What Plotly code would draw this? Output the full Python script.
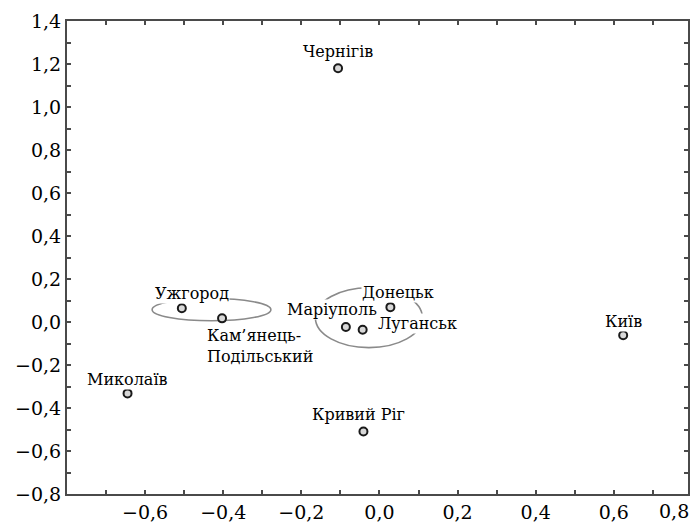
import plotly.graph_objects as go

# ---- data ----
cities = ["Чернігів", "Ужгород", "Кам’янець-<br>Подільський", "Маріуполь", "Донецьк",
          "Луганськ", "Миколаїв", "Київ", "Кривий Ріг"]
x_vals = [-0.106, -0.506, -0.403, -0.086, 0.028, -0.043, -0.645, 0.624, -0.041]
y_vals = [1.18, 0.064, 0.017, -0.023, 0.069, -0.036, -0.332, -0.062, -0.509]

# cluster ellipses (x0, x1, y0, y1)
cluster1 = [-0.582, -0.278, 0.006, 0.109]
cluster2 = [-0.164, 0.110, -0.119, 0.159]

x_tick_vals = [-0.8, -0.7, -0.6, -0.5, -0.4, -0.3, -0.2, -0.1, 0.0, 0.1, 0.2, 0.3, 0.4, 0.5, 0.6, 0.7, 0.8]
x_tick_text = ["", "", "−0,6", "", "−0,4", "", "−0,2", "", "0,0", "", "0,2", "", "0,4", "", "0,6", "", "0,8"]
y_tick_vals = [-0.8, -0.7, -0.6, -0.5, -0.4, -0.3, -0.2, -0.1, 0.0, 0.1, 0.2, 0.3, 0.4, 0.5, 0.6,
               0.7, 0.8, 0.9, 1.0, 1.1, 1.2, 1.3, 1.4]
y_tick_text = ["−0,8", "", "−0,6", "", "−0,4", "", "−0,2", "", "0,0", "", "0,2", "", "0,4", "", "0,6",
               "", "0,8", "", "1,0", "", "1,2", "", "1,4"]

# label offsets in px (layout only)
label_dx = [0, 10, 38, -14, 8, 55, 0, 0, -5]
label_dy = [17, 15, -28, 17, 15, 6, 14, 14, 17]
label_align = ["center", "center", "left", "center", "center", "center", "center", "center", "center"]

SERIF = "DejaVu Serif"
AXIS = "#4a4a4a"

fig = go.Figure()
fig.add_trace(go.Scatter(
    x=x_vals, y=y_vals, mode="markers",
    marker=dict(symbol="circle", size=8, color="#d8d8d8",
                line=dict(color="#1a1a1a", width=2)),
    hoverinfo="skip", showlegend=False, cliponaxis=False))

for c in (cluster1, cluster2):
    fig.add_shape(type="circle", xref="x", yref="y",
                  x0=c[0], x1=c[1], y0=c[2], y1=c[3],
                  line=dict(color="#8a8a8a", width=1.6), layer="below")

for name, xv, yv, dx, dy, al in zip(cities, x_vals, y_vals, label_dx, label_dy, label_align):
    fig.add_annotation(x=xv, y=yv, text=name, showarrow=False,
                       xshift=dx, yshift=dy, align=al,
                       xanchor="center", yanchor="middle",
                       bgcolor="white", borderpad=0,
                       font=dict(family=SERIF, size=16, color="black"))

# last x tick label lies beyond the visible axis end: draw it at the edge
fig.add_annotation(xref="paper", yref="paper", x=1.0, y=0, xanchor="right", yanchor="top",
                   xshift=3, yshift=-4, text=x_tick_text[-1], showarrow=False,
                   font=dict(family=SERIF, size=19, color="black"))

fig.update_xaxes(range=[-0.8, 0.79], tickvals=x_tick_vals, ticktext=x_tick_text,
                 ticks="inside", ticklen=4, tickwidth=1.5, tickcolor=AXIS,
                 showline=True, linecolor=AXIS, linewidth=2, mirror="ticks",
                 showgrid=False, zeroline=False,
                 tickfont=dict(family=SERIF, size=19, color="black"))
fig.update_yaxes(range=[-0.8, 1.4], tickvals=y_tick_vals, ticktext=y_tick_text,
                 ticks="inside", ticklen=4, tickwidth=1.5, tickcolor=AXIS,
                 showline=True, linecolor=AXIS, linewidth=2, mirror="ticks",
                 showgrid=False, zeroline=False,
                 tickfont=dict(family=SERIF, size=19, color="black"))

fig.update_layout(width=693, height=526,
                  font=dict(family=SERIF),
                  margin=dict(l=67, r=3, t=21, b=28),
                  paper_bgcolor="white", plot_bgcolor="white")

fig.write_html("out.html")
